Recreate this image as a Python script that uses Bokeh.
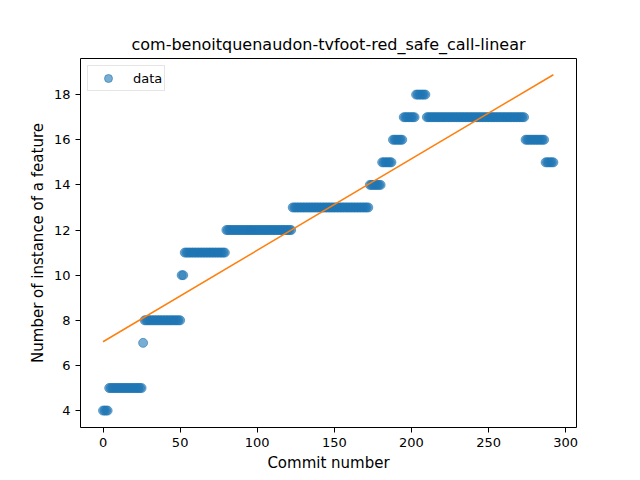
import numpy as np
from bokeh.plotting import figure
from bokeh.models import ColumnDataSource, Range1d, FixedTicker, Legend, LegendItem
from bokeh.embed import file_html
from bokeh.resources import INLINE

# step segments: commit range -> number of instances
seg_start = [0, 4, 26, 27, 51, 53, 80, 123, 173, 181, 188, 195, 203, 210, 274, 287]
seg_end = [3, 25, 26, 50, 52, 79, 122, 172, 180, 187, 194, 202, 209, 273, 286, 292]
seg_value = [4, 5, 7, 8, 10, 11, 12, 13, 14, 15, 16, 17, 18, 17, 16, 15]

# linear fit endpoints
fit_x = [0, 292]
fit_y = [7.05, 18.88]

x_ticks = [0, 50, 100, 150, 200, 250, 300]
y_ticks = [4, 6, 8, 10, 12, 14, 16, 18]

commits = []
counts = []
for s, e, v in zip(seg_start, seg_end, seg_value):
    for c in range(s, e + 1):
        commits.append(c)
        counts.append(v)

source = ColumnDataSource(data=dict(x=commits, y=counts))

FONT = "DejaVu Sans"

p = figure(frame_width=496, frame_height=369,
           x_range=Range1d(-14.6, 307), y_range=Range1d(3.25, 19.6),
           output_backend="svg", toolbar_location=None,
           min_border_left=80, min_border_right=56, min_border_top=58, min_border_bottom=40,
           title="com-benoitquenaudon-tvfoot-red_safe_call-linear")

pts = p.scatter(x='x', y='y', source=source, size=9, fill_color='#1f77b4', line_color='#1f77b4',
                fill_alpha=0.6, line_alpha=0.6)
fit = p.line(x=fit_x, y=fit_y, line_color='#ff7f0e', line_width=1.5)

legend = Legend(items=[LegendItem(label="data", renderers=[pts])], location="top_left")
legend.label_text_font = FONT
legend.label_text_font_size = "13px"
legend.label_text_color = "black"
legend.border_line_color = "#cccccc"
legend.border_line_width = 1
legend.margin = 7
legend.padding = 2
legend.spacing = 0
legend.glyph_width = 36
legend.glyph_height = 20
legend.label_height = 20
legend.label_standoff = 7
legend.background_fill_alpha = 0.8
p.add_layout(legend)

p.title.text_font = FONT
p.title.text_font_size = "16px"
p.title.text_font_style = "normal"
p.title.align = "center"
p.title.text_color = "black"

p.xaxis.axis_label = "Commit number"
p.yaxis.axis_label = "Number of instance of a feature"
p.axis.axis_label_text_font = FONT
p.axis.axis_label_text_font_size = "15px"
p.axis.axis_label_text_font_style = "normal"
p.axis.axis_label_text_color = "black"
p.axis.major_label_text_font = FONT
p.axis.major_label_text_font_size = "13px"
p.axis.major_label_text_color = "black"
p.axis.axis_label_standoff = 4
p.axis.major_label_standoff = 5
p.axis.major_tick_in = 0
p.axis.major_tick_out = 5
p.axis.minor_tick_line_color = None
p.axis.axis_line_color = None
p.xaxis.ticker = FixedTicker(ticks=x_ticks)
p.yaxis.ticker = FixedTicker(ticks=y_ticks)

p.grid.grid_line_color = None
p.outline_line_color = "black"
p.outline_line_width = 1
p.outline_line_alpha = 1

open("out.html", "w").write(file_html(p, INLINE))
